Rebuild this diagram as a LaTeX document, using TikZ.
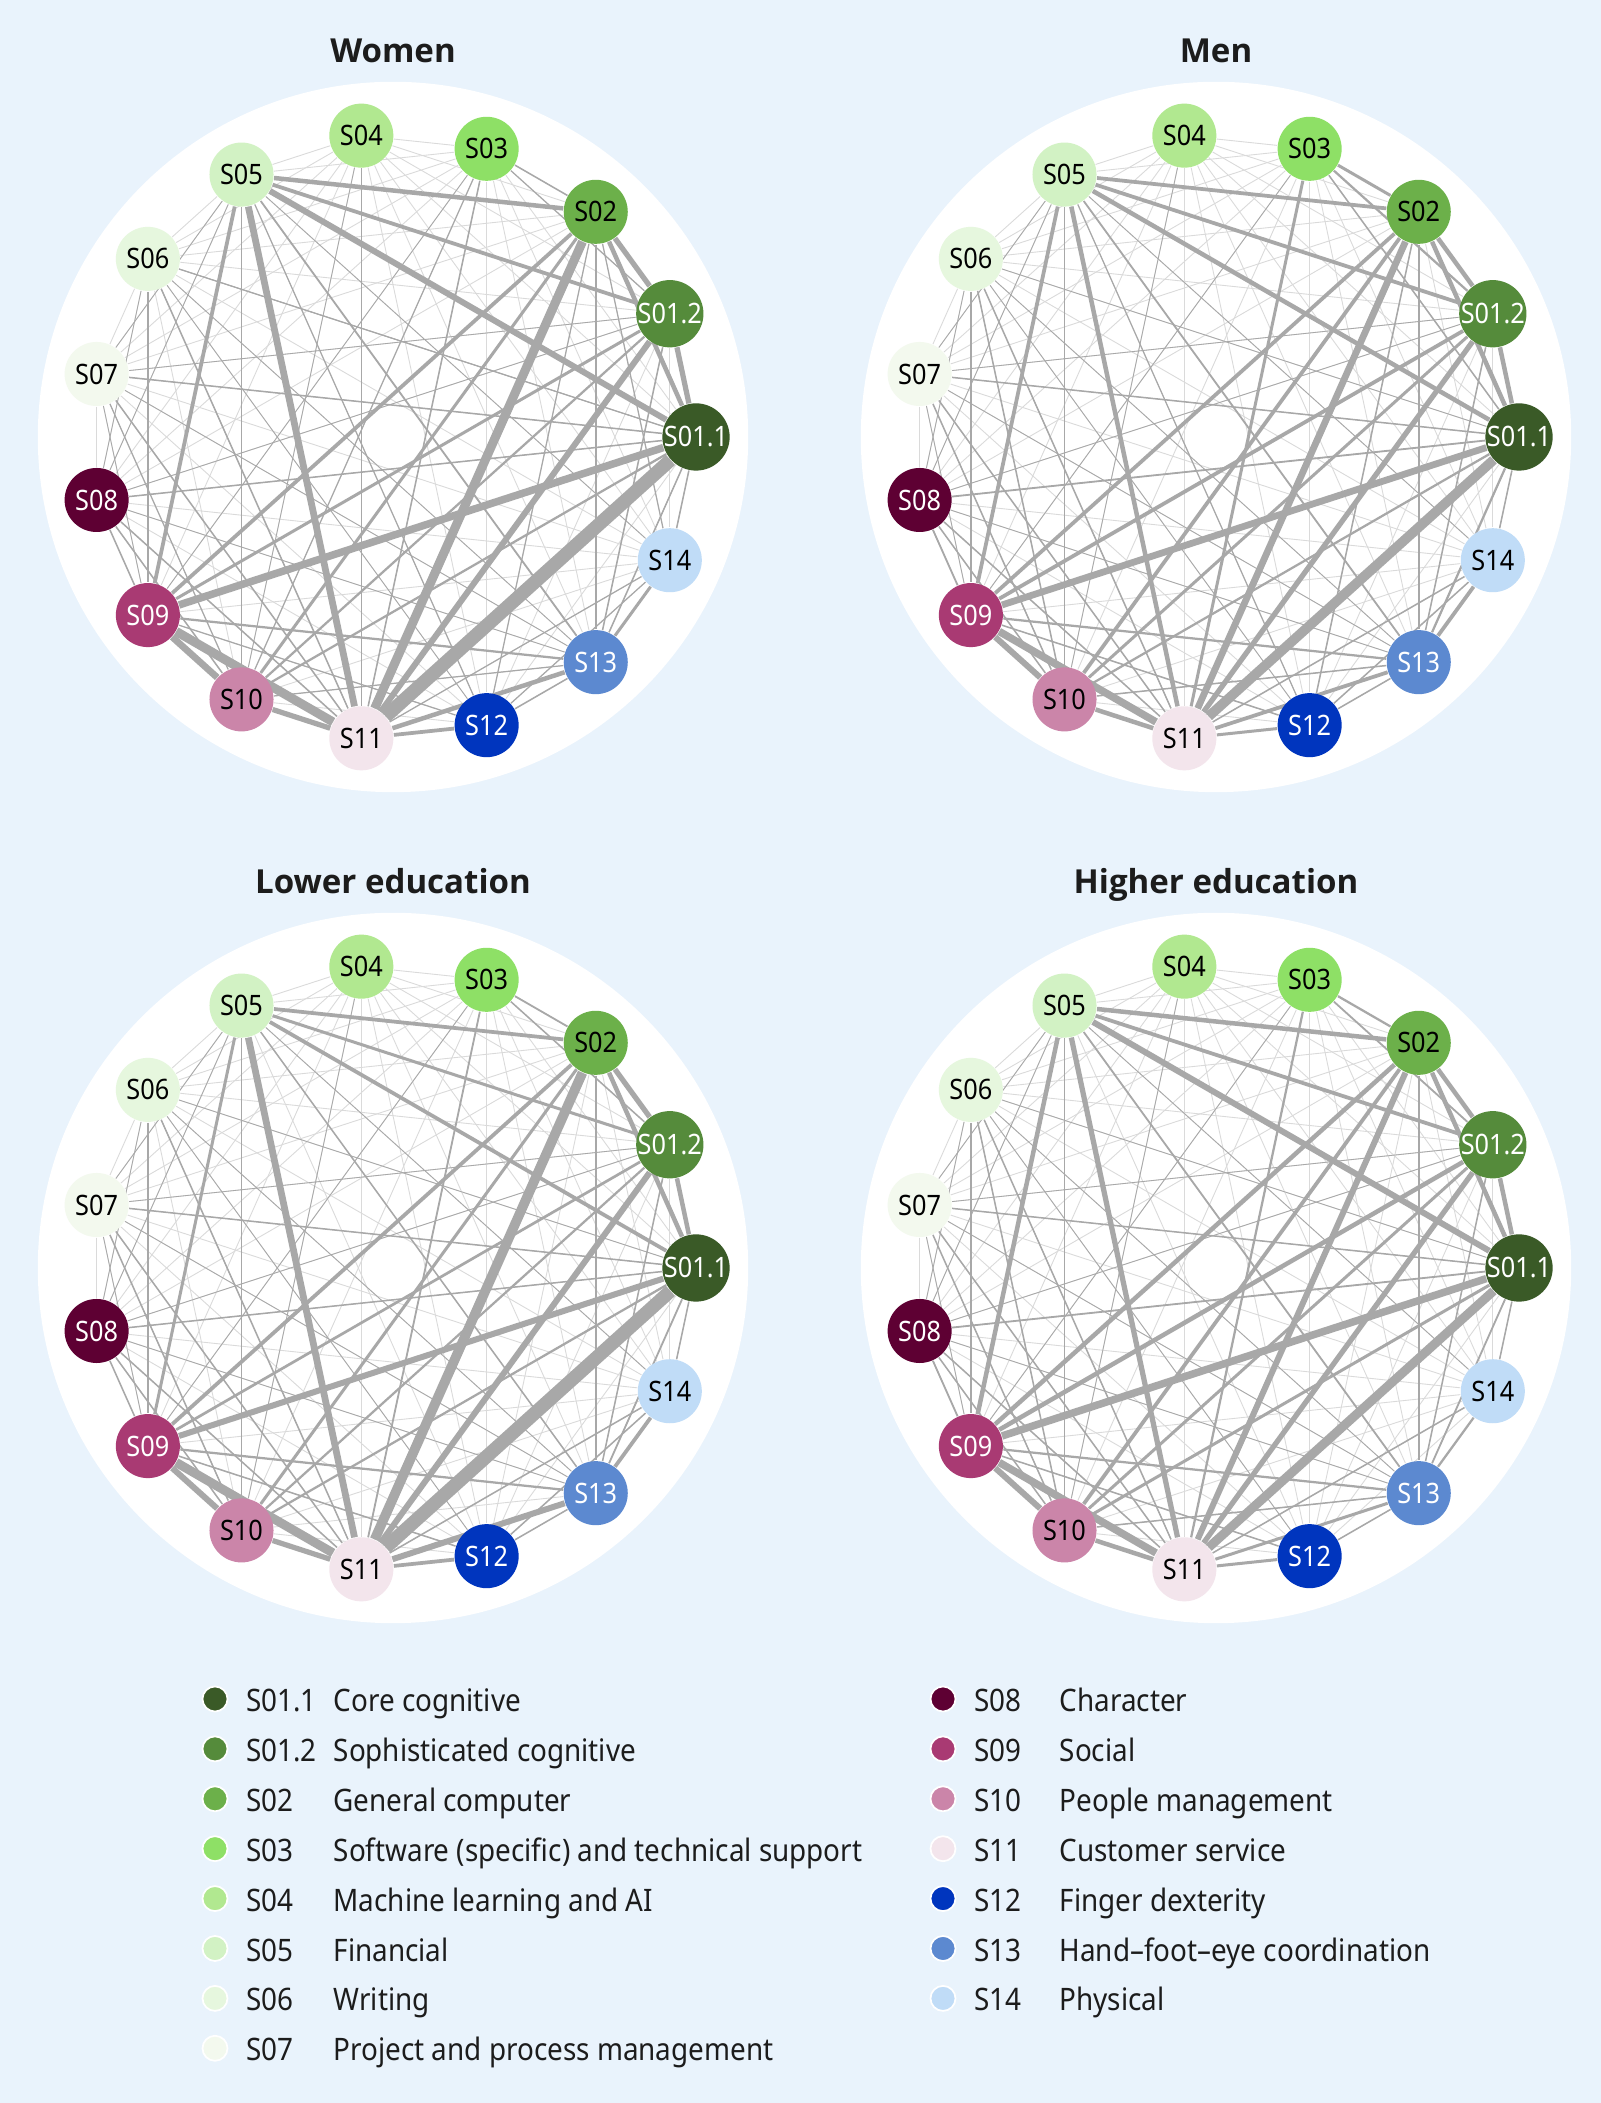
\documentclass[tikz,border=0pt]{standalone}
\usepackage{fontspec}
\setmainfont{Noto Sans}
\newfontfamily\skillfont{Noto Sans}[FakeStretch=0.9]
\newfontfamily\titlefont{Open Sans}
\usetikzlibrary{positioning}
\definecolor{pagebg}{RGB}{233,243,252}
\definecolor{linkgray}{RGB}{168,168,168}
\definecolor{webgray}{RGB}{218,218,218}
\definecolor{inkgray}{RGB}{28,28,28}
\definecolor{c011}{RGB}{58,90,39}
\definecolor{c012}{RGB}{85,139,59}
\definecolor{c02}{RGB}{108,176,74}
\definecolor{c03}{RGB}{142,224,102}
\definecolor{c04}{RGB}{177,232,144}
\definecolor{c05}{RGB}{210,242,196}
\definecolor{c06}{RGB}{230,247,222}
\definecolor{c07}{RGB}{243,249,238}
\definecolor{c08}{RGB}{94,0,51}
\definecolor{c09}{RGB}{169,58,115}
\definecolor{c10}{RGB}{203,133,169}
\definecolor{c11}{RGB}{243,229,236}
\definecolor{c12}{RGB}{0,53,190}
\definecolor{c13}{RGB}{92,137,208}
\definecolor{c14}{RGB}{192,220,247}
\pgfdeclarelayer{back}
\pgfdeclarelayer{links}
\pgfsetlayers{back,links,main}
\tikzset{
  skill/.style={circle, minimum size=0.64cm, inner sep=0pt,
    font=\skillfont\fontsize{8}{9}\selectfont},
  webline/.style={webgray, line width=0.25pt},
  link/.style={linkgray},
  paneltitle/.style={font=\titlefont\bfseries\fontsize{9.4}{11}\selectfont,
    text=inkgray, anchor=base, inner sep=0pt},
  legdot/.style={circle, minimum size=0.25cm, inner sep=0pt,
    draw=white, line width=0.5pt},
  legtext/.style={font=\skillfont\fontsize{8.8}{10}\selectfont,
    text=inkgray, inner sep=0pt, anchor=west,
    text height=0.714em, text depth=0pt},
}
\newcommand{\skillcodes}{011,012,02,03,04,05,06,07,08,09,10,11,12,13,14}
% #1 prefix, #2 centre, #3 title, #4 weighted links
\newcommand{\skillnet}[4]{%
  \begin{scope}[shift={(#2)}]
    \begin{pgfonlayer}{back}
      \fill[white] (0,0) circle[radius=3.55cm];
    \end{pgfonlayer}
    \node[paneltitle] (#1-title) at (0,374) {#3};
    \foreach \code/\lab/\ang/\txt in {011/S01.1/0/white, 012/S01.2/24/white,
        02/S02/48/black, 03/S03/72/black, 04/S04/96/black, 05/S05/120/black,
        06/S06/144/black, 07/S07/168/black, 08/S08/192/white, 09/S09/216/white,
        10/S10/240/black, 11/S11/264/black, 12/S12/288/white, 13/S13/312/white,
        14/S14/336/black}
      \node[skill, fill=c\code, text=\txt] (#1-\code) at (\ang:303) {\lab};
    \begin{pgfonlayer}{links}
      % faint web between every pair
      \foreach \a [count=\i] in \skillcodes {
        \foreach \b [count=\j] in \skillcodes {
          \ifnum\j>\i\relax \draw[webline] (#1-\a) -- (#1-\b); \fi
        }
      }
      % shared thin links
      \foreach \a/\b in {05/08, 05/07, 05/14, 06/12, 06/13, 06/011, 07/012,
          08/012, 07/13, 08/13, 03/09, 04/10, 06/08, 07/09}
        \draw[link, line width=0.008cm] (#1-\a) -- (#1-\b);
      \foreach \a/\b/\w in {#4}
        \draw[link, line width=\w*0.015cm] (#1-\a) -- (#1-\b);
    \end{pgfonlayer}
  \end{scope}
}

\begin{document}
\begin{tikzpicture}[x=0.01cm, y=0.01cm]
  \begin{pgfonlayer}{back}
    \fill[pagebg] (0,0) rectangle (1601,2103);
  \end{pgfonlayer}
  \useasboundingbox (0,0) rectangle (1601,2103);

  % Women
  \skillnet{W}{393,1666}{Women}{
    05/02/3, 05/012/2.5, 05/011/4, 05/09/2.5, 05/11/4.5, 05/10/1, 05/13/1.2, 05/12/0.8,
    02/012/3.5, 02/011/3, 02/11/6, 02/10/2, 02/09/2.5, 02/13/1, 02/03/1, 02/12/0.8, 02/14/0.8,
    012/011/3.5, 012/11/4, 012/09/2, 012/10/1.5, 012/13/1, 012/03/0.8,
    011/11/9, 011/09/5, 011/10/1.5, 011/08/1, 011/07/1, 011/14/1, 011/13/1,
    09/10/4.5, 09/11/6, 09/13/1.5, 09/12/0.8, 09/08/1,
    10/11/3.5, 10/08/1, 10/13/0.8,
    11/12/2.5, 11/13/3, 11/08/1, 11/06/1, 11/07/1, 11/03/1, 11/04/0.8, 11/14/0.8,
    13/14/2, 12/13/1, 12/14/0.8, 06/09/1, 06/011/0.8, 07/10/0.8, 03/10/0.8}

  % Men
  \skillnet{M}{1216,1666}{Men}{
    05/02/2.5, 05/012/2.5, 05/011/3, 05/09/2.5, 05/11/3, 05/10/1, 05/13/1.2, 05/12/0.8,
    02/012/3, 02/011/3, 02/11/4.5, 02/10/2.5, 02/09/2.5, 02/13/1, 02/03/2, 02/12/1,
    03/012/1.5, 03/11/2, 03/011/1,
    012/011/3, 012/11/3.5, 012/09/2.5, 012/10/2, 012/13/1,
    011/11/6.5, 011/09/4.5, 011/10/1.5, 011/08/1.2, 011/07/1, 011/14/1, 011/13/1.5,
    09/10/4, 09/11/5, 09/13/1.5, 09/12/1, 09/08/1.2,
    10/11/3, 10/08/1, 10/13/1,
    11/12/2, 11/13/2.5, 11/08/1, 11/06/1, 11/07/1, 11/14/1,
    13/14/2.5, 12/13/1, 12/14/1, 06/09/1, 06/10/1, 07/10/1}

  % Lower education
  \skillnet{L}{393,835}{Lower education}{
    05/02/2.5, 05/012/2, 05/011/2.5, 05/09/2, 05/11/4.5, 05/10/1, 05/13/1,
    02/012/3.5, 02/011/3, 02/11/6.5, 02/10/2, 02/09/2.5, 02/13/1, 02/03/1.2,
    03/11/1.2, 03/012/1,
    012/011/3, 012/11/4, 012/09/1.8, 012/10/1.5, 012/13/1,
    011/11/9, 011/09/4, 011/10/1.5, 011/08/1, 011/07/1, 011/14/1, 011/13/1.2,
    09/10/4, 09/11/6, 09/13/1.5, 09/12/1, 09/08/1,
    10/11/3.5, 10/08/1,
    11/12/2.5, 11/13/4, 11/08/1, 11/06/1, 11/07/1, 11/14/1,
    13/14/2.5, 12/13/1, 12/14/1, 06/09/1, 07/10/1}

  % Higher education
  \skillnet{H}{1216,835}{Higher education}{
    05/02/3, 05/012/2.5, 05/011/4, 05/09/3, 05/11/3.5, 05/10/1, 05/13/1.2,
    02/012/3, 02/011/3, 02/11/4, 02/10/2.5, 02/09/3, 02/13/1, 02/03/1.5,
    03/11/1.5, 03/012/1.2,
    012/011/3, 012/11/3.5, 012/09/3, 012/10/2, 012/13/1,
    011/11/6, 011/09/5, 011/10/2, 011/08/1.2, 011/07/1, 011/14/1, 011/13/1.2,
    09/10/4, 09/11/5, 09/13/1.5, 09/12/1, 09/08/1.2,
    10/11/3, 10/08/1, 10/13/1,
    11/12/2, 11/13/2, 11/08/1, 11/06/1, 11/07/1, 11/14/1,
    13/14/1.5, 12/13/1, 06/09/1, 06/10/1, 07/10/1}

  % Legend, left column
  \foreach \code/\lab/\name [count=\r] in {011/S01.1/Core cognitive,
      012/S01.2/Sophisticated cognitive, 02/S02/General computer,
      03/S03/Software (specific) and technical support,
      04/S04/Machine learning and AI, 05/S05/Financial, 06/S06/Writing,
      07/S07/Project and process management} {
    \node[legdot, fill=c\code] (key-\code) at (215,{404-(\r-1)*49.9}) {};
    \node[legtext, right=0.17cm of key-\code] (code-\code) {\lab};
    \node[legtext] (name-\code) at (333,{404-(\r-1)*49.9}) {\name};
  }
  % Legend, right column
  \foreach \code/\lab/\name [count=\r] in {08/S08/Character, 09/S09/Social,
      10/S10/People management, 11/S11/Customer service,
      12/S12/Finger dexterity, 13/S13/Hand–foot–eye coordination,
      14/S14/Physical} {
    \node[legdot, fill=c\code] (key-\code) at (943,{404-(\r-1)*49.9}) {};
    \node[legtext, right=0.17cm of key-\code] (code-\code) {\lab};
    \node[legtext] (name-\code) at (1059,{404-(\r-1)*49.9}) {\name};
  }
\end{tikzpicture}
\end{document}
